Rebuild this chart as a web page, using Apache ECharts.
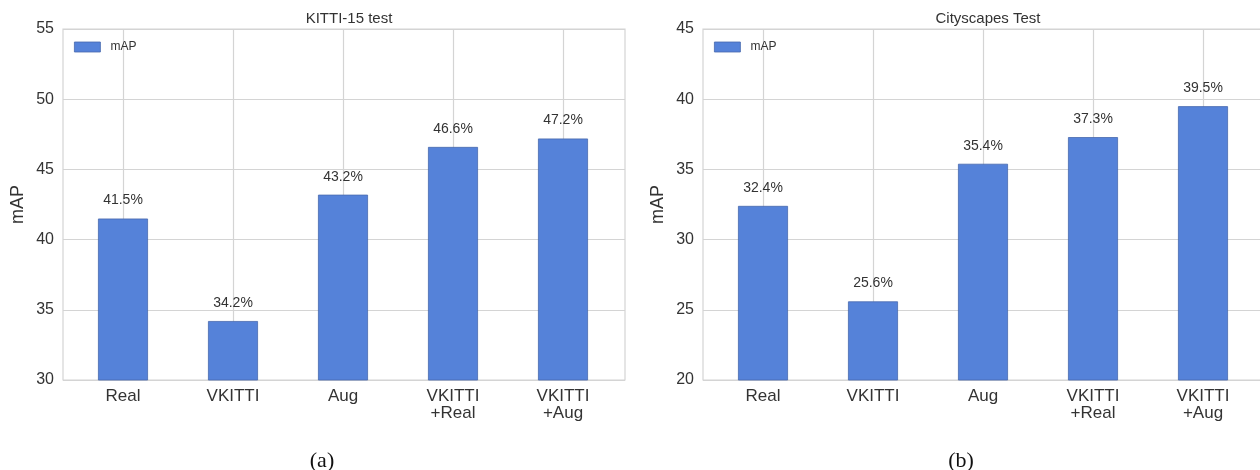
<!DOCTYPE html>
<html>
<head>
<meta charset="utf-8">
<script src="https://cdn.jsdelivr.net/npm/echarts@6/dist/echarts.min.js"></script>
<style>
html,body{margin:0;padding:0;background:#fff;}
#main{width:1260px;height:470px;}
</style>
</head>
<body>
<div id="main"></div>
<script>
const categories = ['Real', 'VKITTI', 'Aug', 'VKITTI\n+Real', 'VKITTI\n+Aug'];
const kittiValues = [41.5, 34.2, 43.2, 46.6, 47.2];
const cityscapesValues = [32.4, 25.6, 35.4, 37.3, 39.5];
const kittiTicks = [30, 35, 40, 45, 50, 55];
const cityTicks = [20, 25, 30, 35, 40, 45];
const titles = ['KITTI-15 test', 'Cityscapes Test'];
const captions = ['(a)', '(b)'];

const FONT = '"Liberation Sans", Arial, sans-serif';
const TEXT = '#333333';
const GRID = '#d4d4d4';
const BAR = '#5582d9';

const chart = echarts.init(document.getElementById('main'), null, {renderer: 'canvas'});

// padded category list: one empty slot on each side so the axis spans the plot frame
const paddedCats = [''].concat(categories, ['']);
const pad = (arr) => ['-'].concat(arr, ['-']);

const panels = [
  {frameLeft: 63, dataLeft: 13, values: kittiValues, ticks: kittiTicks},
  {frameLeft: 703, dataLeft: 653, values: cityscapesValues, ticks: cityTicks}
];
const TOP = 29, HEIGHT = 351;

const grid = [], xAxis = [], yAxis = [], series = [], legend = [], title = [];
panels.forEach((p, i) => {
  const ymin = p.ticks[0], ymax = p.ticks[p.ticks.length - 1];
  grid.push({left: p.frameLeft, top: TOP, width: 562, height: HEIGHT, show: true, outerBoundsMode: 'none',
    borderColor: GRID, borderWidth: 1.2, backgroundColor: 'transparent', containLabel: false});
  grid.push({left: p.dataLeft, top: TOP, width: 660, height: HEIGHT, show: false, outerBoundsMode: 'none',
    containLabel: false});

  xAxis.push({gridIndex: 2 * i, type: 'value', min: 0, max: 1, show: false});
  yAxis.push({gridIndex: 2 * i, type: 'value', min: ymin, max: ymax, interval: 5,
    name: 'mAP', nameLocation: 'middle', nameGap: 36, nameRotate: 90,
    nameTextStyle: {fontFamily: FONT, fontSize: 18, color: TEXT},
    axisLine: {show: false}, axisTick: {show: false},
    axisLabel: {fontFamily: FONT, fontSize: 16, color: TEXT, margin: 9},
    splitLine: {show: true, lineStyle: {color: GRID, width: 1.2}}});

  xAxis.push({gridIndex: 2 * i + 1, type: 'category', data: paddedCats, boundaryGap: false,
    axisLine: {show: false}, axisTick: {show: false},
    axisLabel: {fontFamily: FONT, fontSize: 17, color: TEXT, margin: 8, lineHeight: 17, interval: 0},
    splitLine: {show: true, interval: (idx) => idx > 0 && idx < paddedCats.length - 1,
      lineStyle: {color: GRID, width: 1.2}}});
  yAxis.push({gridIndex: 2 * i + 1, type: 'value', min: ymin, max: ymax, interval: 5, show: false,
    splitLine: {show: false}});

  series.push({type: 'bar', name: 'mAP', xAxisIndex: 2 * i + 1, yAxisIndex: 2 * i + 1,
    data: pad(p.values), barWidth: 50, clip: true,
    itemStyle: {color: BAR, borderColor: '#4868ad', borderWidth: 0.8},
    label: {show: true, position: 'top', distance: 11, fontFamily: FONT, fontSize: 14, color: TEXT,
      formatter: (d) => (typeof d.value === 'number' ? d.value.toFixed(1) + '%' : '')}});

  legend.push({left: p.frameLeft + 11, top: 41, padding: 0, orient: 'vertical', itemWidth: 26, itemHeight: 10,
    icon: 'rect', data: [{name: 'mAP', itemStyle: {color: BAR, borderColor: '#4868ad', borderWidth: 0.8}}],
    selectedMode: false,
    textStyle: {fontFamily: FONT, fontSize: 12, color: TEXT, padding: [0, 0, 0, 5]}});
});

title.push({text: titles[0], left: 344, top: 6, textAlign: 'center',
  textStyle: {fontFamily: FONT, fontSize: 15, fontWeight: 'normal', color: TEXT}});
title.push({text: titles[1], left: 983, top: 6, textAlign: 'center',
  textStyle: {fontFamily: FONT, fontSize: 15, fontWeight: 'normal', color: TEXT}});
title.push({text: captions[0], left: 317, top: 445, textAlign: 'center',
  textStyle: {fontFamily: '"Liberation Serif", "DejaVu Serif", serif', fontSize: 22, fontWeight: 'normal', color: '#111'}});
title.push({text: captions[1], left: 956, top: 445, textAlign: 'center',
  textStyle: {fontFamily: '"Liberation Serif", "DejaVu Serif", serif', fontSize: 22, fontWeight: 'normal', color: '#111'}});

chart.setOption({
  animation: false,
  backgroundColor: '#ffffff',
  title, grid, xAxis, yAxis, series, legend
});
</script>
</body>
</html>
